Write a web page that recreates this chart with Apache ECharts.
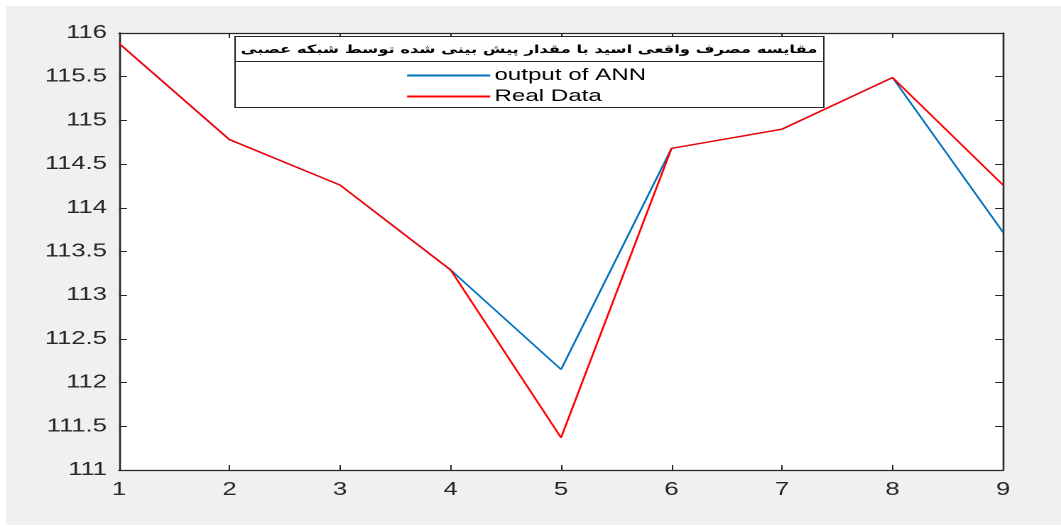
<!DOCTYPE html>
<html><head><meta charset="utf-8">
<script src="https://cdn.jsdelivr.net/npm/echarts@6/dist/echarts.min.js"></script>
<style>
html,body{margin:0;padding:0;background:#fff;overflow:hidden}
#c{width:747px;height:526px;transform:scaleX(1.42035);transform-origin:0 0}
</style>
</head><body><div id="c"></div>
<script>
const xValues = [1, 2, 3, 4, 5, 6, 7, 8, 9];
const annOutput = [115.88, 114.78, 114.26, 113.29, 112.15, 114.68, 114.90, 115.49, 113.72];
const realData = [115.88, 114.78, 114.26, 113.29, 111.37, 114.68, 114.90, 115.49, 114.26];
const seriesNames = ['output of ANN', 'Real Data'];
const legendTitle = 'مقایسه مصرف واقعی اسید با مقدار پیش بینی شده توسط شبکه عصبی';

// The reference figure is horizontally stretched; the chart is drawn 747px wide and stretched by CSS.
const chart = echarts.init(document.getElementById('c'), null, {renderer: 'canvas', devicePixelRatio: 2});
const axisColor = '#262626';
const font = 'Liberation Sans, Arial, sans-serif';
function pairs(vals){ return xValues.map((x, i) => [x, vals[i]]); }

chart.setOption({
  backgroundColor: '#ffffff',
  animation: false,
  graphic: [
    {type: 'rect', z: -10, shape: {x: 4.2, y: 6, width: 760, height: 519}, style: {fill: '#f0f0f0'}},
    {type: 'rect', z: 50, shape: {x: 165.5, y: 36.5, width: 414.5, height: 71}, style: {fill: '#ffffff', stroke: '#262626', lineWidth: 1}},
    {type: 'line', z: 51, shape: {x1: 165.5, y1: 61.5, x2: 580, y2: 61.5}, style: {stroke: '#262626', lineWidth: 1}},
    {type: 'text', z: 52, x: 372.5, y: 50, style: {text: legendTitle, fontFamily: 'DejaVu Sans', fontWeight: 'bold', fontSize: 11.5, fill: '#000', textAlign: 'center', textVerticalAlign: 'middle'}}
  ],
  grid: {left: 83.8, right: 40.8, top: 33, bottom: 56, show: true, backgroundColor: '#ffffff', borderWidth: 0},
  legend: {
    z: 60,
    data: seriesNames,
    orient: 'vertical',
    left: 286.6, top: 67,
    itemWidth: 58.5, itemHeight: 2, itemGap: 4,
    icon: 'rect',
    textStyle: {fontFamily: font, fontSize: 17, color: '#000', padding: [0, 0, 0, -2]},
    padding: 0
  },
  xAxis: [
    {type: 'value', min: 1, max: 9, interval: 1, position: 'bottom',
     axisLine: {lineStyle: {color: axisColor, width: 1.3}},
     axisTick: {inside: true, length: 5, lineStyle: {color: axisColor}},
     axisLabel: {color: axisColor, fontFamily: font, fontSize: 18, margin: 11, showMinLabel: true, showMaxLabel: true},
     splitLine: {show: false}},
    {type: 'value', min: 1, max: 9, interval: 1, position: 'top',
     axisLine: {lineStyle: {color: axisColor, width: 1.3}},
     axisTick: {inside: true, length: 5, lineStyle: {color: axisColor}},
     axisLabel: {show: false}, splitLine: {show: false}}
  ],
  yAxis: [
    {type: 'value', min: 111, max: 116, interval: 0.5, position: 'left',
     axisLine: {show: true, lineStyle: {color: axisColor, width: 1.3}},
     axisTick: {show: true, inside: true, length: 5.6, lineStyle: {color: axisColor}},
     axisLabel: {color: axisColor, fontFamily: font, fontSize: 18, margin: 8.5, showMinLabel: true, showMaxLabel: true},
     splitLine: {show: false}},
    {type: 'value', min: 111, max: 116, interval: 0.5, position: 'right',
     axisLine: {show: true, lineStyle: {color: axisColor, width: 1.3}},
     axisTick: {show: true, inside: true, length: 5.6, lineStyle: {color: axisColor}},
     axisLabel: {show: false}, splitLine: {show: false}}
  ],
  series: [
    {name: seriesNames[0], type: 'line', data: pairs(annOutput), showSymbol: false, symbol: 'none',
     lineStyle: {color: '#0072BD', width: 1.4}, itemStyle: {color: '#0072BD'}},
    {name: seriesNames[1], type: 'line', data: pairs(realData), showSymbol: false, symbol: 'none',
     lineStyle: {color: '#FF0000', width: 1.4}, itemStyle: {color: '#FF0000'}}
  ]
});
</script></body></html>
